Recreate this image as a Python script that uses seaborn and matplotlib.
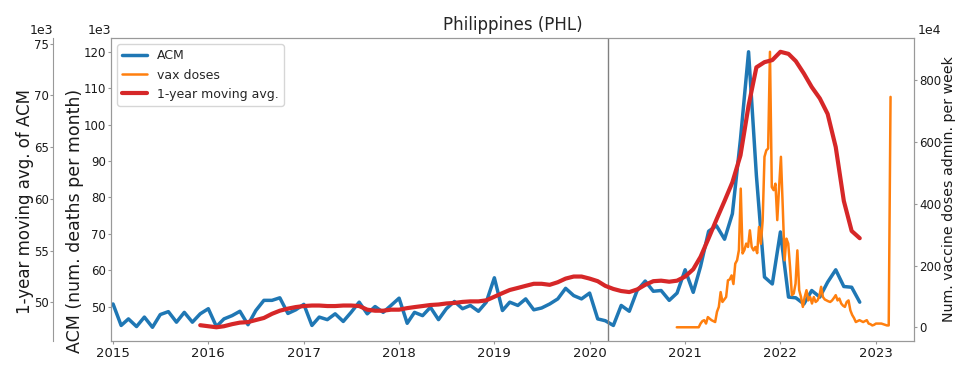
import matplotlib
matplotlib.use("Agg")
import matplotlib.pyplot as plt
import numpy as np
import pandas as pd
import seaborn as sns

# monthly all-cause mortality, thousands of deaths (2015-01 .. 2022-11)
acm = [
    50.7, 44.8, 46.6, 44.5, 47.1, 44.3, 47.8, 48.6, 45.7, 48.4, 45.7, 48.0,
    49.4, 44.5, 46.6, 47.5, 48.7, 45.0, 48.9, 51.7, 51.7, 52.4, 48.1, 49.1,
    50.6, 44.8, 47.1, 46.4, 48.0, 45.9, 48.4, 51.2, 48.0, 50.0, 48.4, 50.3,
    52.3, 45.4, 48.4, 47.5, 49.8, 46.4, 49.4, 51.4, 49.4, 50.3, 48.7, 51.2,
    57.9, 48.9, 51.2, 50.3, 52.1, 49.1, 49.6, 50.7, 52.1, 55.0, 53.0, 52.1,
    53.7, 46.6, 46.1, 44.8, 50.3, 48.7, 54.4, 57.0, 54.2, 54.4, 51.7, 53.7,
    60.1, 53.9, 61.0, 70.7, 72.2, 68.5, 75.5, 96.0, 120.0, 86.0, 58.1, 56.2,
    70.5, 52.6, 52.4, 50.7, 54.4, 52.6, 56.7, 60.1, 55.5, 55.3, 51.2,
]

# 1-year moving average of ACM, thousands (2015-12 .. 2022-11)
acm_avg = [
    47.8,
    47.7, 47.6, 47.7, 47.9, 48.05, 48.1, 48.3, 48.5, 48.9, 49.2, 49.4, 49.55,
    49.65, 49.7, 49.7, 49.65, 49.65, 49.7, 49.7, 49.65, 49.3, 49.2, 49.2, 49.3,
    49.3, 49.45, 49.55, 49.65, 49.75, 49.8, 49.9, 49.95, 50.05, 50.1, 50.1, 50.2,
    50.55, 50.9, 51.2, 51.4, 51.6, 51.8, 51.8, 51.7, 51.95, 52.3, 52.5, 52.5,
    52.3, 52.05, 51.6, 51.3, 51.1, 51.0, 51.25, 51.7, 52.05, 52.1, 52.0, 52.1,
    52.5, 53.2, 54.4, 56.2, 58.0, 59.8, 61.6, 64.2, 69.0, 72.7, 73.2, 73.4,
    74.2, 74.0, 73.3, 72.1, 70.8, 69.7, 68.2, 65.0, 59.8, 56.9, 56.2,
]

# weekly vaccine doses administered, units of 1e4 (from week of 2020-11-30)
vax = [
    0, 0, 0, 0, 0, 0, 0, 0, 0, 0, 0, 0, 0,
    12, 20, 23, 12, 33, 28, 23, 20, 17, 50, 66, 114, 82, 90, 98, 152, 155, 168,
    140, 206, 217, 250, 449, 239, 250, 271, 260, 314, 260, 249, 260, 240, 325,
    270, 345, 552, 573, 579, 892, 454, 444, 465, 347, 454, 552, 390, 217, 287,
    271, 195, 104, 109, 141, 249, 120, 98, 66, 98, 120, 87, 98, 77, 98, 82, 87,
    100, 131, 98, 90, 87, 84, 82, 87, 95, 104, 87, 93, 77, 70, 66, 82, 87, 55,
    40, 30, 17, 20, 23, 20, 17, 20, 23, 12, 10, 6, 8, 12, 12, 12, 12, 10, 8, 6,
    6, 746,
]

ACM_START = "2015-01-01"
AVG_START = "2015-12-01"
VAX_START = "2020-11-30"
PANDEMIC_DATE = "2020-03-11"
X_RANGE = ("2014-12-24", "2023-05-28")

sns.set_style("ticks", {"axes.edgecolor": "0.6", "xtick.color": "0.6", "ytick.color": "0.6"})
plt.rcParams["font.family"] = ["DejaVu Sans"]
plt.rcParams["xtick.labelcolor"] = "0.1"
plt.rcParams["ytick.labelcolor"] = "0.1"
plt.rcParams["axes.labelcolor"] = "0.1"

acm_dates = pd.date_range(ACM_START, periods=len(acm), freq="MS")
avg_dates = pd.date_range(AVG_START, periods=len(acm_avg), freq="MS")
vax_dates = pd.date_range(VAX_START, periods=len(vax), freq="7D")

fig, ax = plt.subplots(figsize=(9.7, 3.88), dpi=100)
fig.subplots_adjust(left=0.1144, right=0.9423, top=0.902, bottom=0.121)

ax_vax = ax.twinx()
ax_avg = ax.twinx()

sns.lineplot(x=acm_dates, y=np.array(acm) * 1e3, ax=ax, color="#1f77b4", lw=2.5, label="ACM")
sns.lineplot(x=vax_dates, y=np.array(vax) * 1e4, ax=ax_vax, color="#ff7f0e", lw=1.8, label="vax doses")
sns.lineplot(x=avg_dates, y=np.array(acm_avg) * 1e3, ax=ax_avg, color="#d62728", lw=3,
             label="1-year moving avg.")
ax.axvline(pd.Timestamp(PANDEMIC_DATE), color="gray", lw=1)

handles, labels = [], []
for a in (ax, ax_vax, ax_avg):
    h, l = a.get_legend_handles_labels()
    handles += h
    labels += l
    if a.get_legend() is not None:
        a.get_legend().remove()
ax_avg.legend(handles, labels, loc="upper left", fontsize=9)

ax.set_xlim(pd.Timestamp(X_RANGE[0]), pd.Timestamp(X_RANGE[1]))
ax.set_title("Philippines (PHL)", fontsize=12)
ax.set_xlabel("")
ax.set_ylabel("ACM (num. deaths per month)", fontsize=12.5)
ax_vax.set_ylabel("Num. vaccine doses admin. per week", fontsize=10.2)
ax_avg.set_ylabel("1-year moving avg. of ACM", fontsize=12)

# outer left axis for the moving average
ax_avg.spines["left"].set_position(("outward", 42))
ax_avg.spines["left"].set_visible(True)
for s in ("right", "top", "bottom"):
    ax_avg.spines[s].set_visible(False)
ax_avg.yaxis.set_label_position("left")
ax_avg.yaxis.set_ticks_position("left")

ax.tick_params(axis="x", labelsize=9.5, length=2.5, pad=1.5)
ax.tick_params(axis="y", labelsize=8.5, length=2.5, pad=1)
ax_vax.tick_params(axis="y", labelsize=8.5, length=2.5, pad=1)
ax_avg.tick_params(axis="y", labelsize=8.5, length=2, pad=0.5)

ax.yaxis.set_label_coords(-0.034, 0.396)
ax_avg.yaxis.set_label_coords(-0.096, 0.459)
ax_vax.yaxis.set_label_coords(1.035, 0.5)

ax.ticklabel_format(axis="y", style="sci", scilimits=(3, 3))
ax_avg.ticklabel_format(axis="y", style="sci", scilimits=(3, 3))
ax_vax.ticklabel_format(axis="y", style="sci", scilimits=(4, 4))

for a, xpos, ha in ((ax, 0.0, "right"), (ax_avg, -0.072, "right"), (ax_vax, 1.005, "left")):
    off = a.yaxis.get_offset_text()
    off.set_fontsize(9)
    off.set_ha(ha)
    off.set_x(xpos)

fig.savefig("out.png", dpi=100)
